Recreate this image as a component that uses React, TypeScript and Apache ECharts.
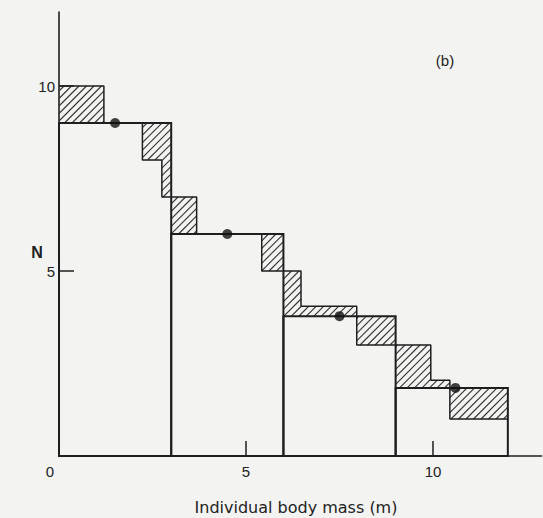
import React, { useEffect, useRef } from "react";
import * as echarts from "echarts";

// Coarse classes (bars) and their N values
const binEdges = [0, 3, 6, 9, 12];
const binHeights = [9, 6, 3.78, 1.84];
// Fine step function (hatched differences)
const fineEdges = [0, 1.2, 2.23, 2.75, 3.68, 5.42, 6.47, 7.96, 9.94, 10.45, 12];
const fineHeights = [10, 9, 8, 7, 6, 5, 4.05, 3, 2.05, 1];
// Mean points
const dotMass = [1.5, 4.5, 7.5, 10.6];
const dotN = [9, 6, 3.78, 1.84];
// Tick labels
const xTickLabels = [0, 5, 10];
const xTickMarks = [5, 10];
const yTickLabels = [5, 10];

const FONT = "'Liberation Sans', Arial, Helvetica, sans-serif";
const WIDE = "'DejaVu Sans', 'Liberation Sans', sans-serif";
const INK = "#1e1e1e";

function stepAt(edges: number[], heights: number[], x: number): number {
  for (let i = 0; i < heights.length; i++) {
    if (x >= edges[i] && x < edges[i + 1]) return heights[i];
  }
  return 0;
}

export default function App() {
  const ref = useRef<HTMLDivElement>(null);

  useEffect(() => {
    if (!ref.current) return;
    const chart = echarts.init(ref.current, null, { renderer: "svg" });

    const edges = Array.from(new Set([...binEdges, ...fineEdges])).sort((a, b) => a - b);
    const hatch: number[][] = [];
    for (let i = 0; i < edges.length - 1; i++) {
      const a = edges[i];
      const b = edges[i + 1];
      const mid = (a + b) / 2;
      const big = stepAt(binEdges, binHeights, mid);
      const fine = stepAt(fineEdges, fineHeights, mid);
      if (Math.abs(big - fine) > 0.01) hatch.push([a, b, Math.min(big, fine), Math.max(big, fine)]);
    }

    const bars = binHeights.map((h, i) => [binEdges[i], binEdges[i + 1], 0, h]);

    const fineLine: number[][] = fineHeights.map((h, i) => [fineEdges[i], h]);
    fineLine.push([fineEdges[fineEdges.length - 1], fineHeights[fineHeights.length - 1]]);

    const option: any = {
      animation: false,
      backgroundColor: "#f3f3f1",
      grid: {
        left: 59,
        top: 12,
        right: 1.5,
        bottom: 62,
        outerBoundsMode: "none",
      },
      xAxis: {
        type: "value",
        min: 0,
        max: 12.9,
        axisLine: { show: true, onZero: true, lineStyle: { color: INK, width: 1.6 } },
        axisTick: {
          show: true,
          inside: true,
          length: 15,
          customValues: xTickMarks,
          lineStyle: { color: INK, width: 1.5 },
        },
        axisLabel: {
          customValues: xTickLabels,
          margin: 8,
          fontSize: 15,
          color: "#222",
          fontFamily: FONT,
          formatter: (v: number) => (v === 0 ? "{z|0}" : String(v)),
          rich: { z: { fontSize: 15, color: "#222", fontFamily: FONT, padding: [0, 18, 0, 0] } },
        },
        splitLine: { show: false },
      },
      yAxis: {
        type: "value",
        min: 0,
        max: 12,
        axisLine: { show: true, lineStyle: { color: INK, width: 1.6 } },
        axisTick: {
          show: true,
          inside: true,
          length: 15,
          customValues: yTickLabels,
          lineStyle: { color: INK, width: 1.5 },
        },
        axisLabel: {
          customValues: yTickLabels,
          margin: 4,
          fontSize: 15,
          color: "#222",
          fontFamily: FONT,
        },
        splitLine: { show: false },
      },
      graphic: [
        {
          type: "text",
          x: 37,
          y: 252,
          style: {
            text: "N",
            font: `bold 16px ${FONT}`,
            fill: "#222",
            textAlign: "center",
            textVerticalAlign: "middle",
          },
        },
        {
          type: "text",
          x: 296,
          y: 507,
          style: {
            text: "Individual body mass (m)",
            font: `16px ${WIDE}`,
            fill: "#222",
            textAlign: "center",
            textVerticalAlign: "middle",
          },
        },
        {
          type: "text",
          x: 445,
          y: 60,
          style: {
            text: "(b)",
            font: `15px ${FONT}`,
            fill: "#222",
            textAlign: "center",
            textVerticalAlign: "middle",
          },
        },
      ],
      series: [
        {
          type: "custom",
          z: 1,
          data: hatch,
          encode: { x: [0, 1], y: [2, 3] },
          renderItem: (params: any, api: any) => {
            const p0 = api.coord([api.value(0), api.value(3)]);
            const p1 = api.coord([api.value(1), api.value(2)]);
            const x0 = p0[0], yTop = p0[1], x1 = p1[0], yBot = p1[1];
            const s = 7.5;
            const children: any[] = [];
            for (let c = Math.ceil((x0 + yTop) / s) * s; c <= x1 + yBot; c += s) {
              const lo = Math.max(x0, c - yBot);
              const hi = Math.min(x1, c - yTop);
              if (hi - lo > 0.6) {
                children.push({
                  type: "line",
                  shape: { x1: lo, y1: c - lo, x2: hi, y2: c - hi },
                  style: { stroke: "#333", lineWidth: 1.1 },
                });
              }
            }
            return { type: "group", children };
          },
        },
        {
          type: "line",
          z: 2,
          step: "end",
          data: fineLine,
          showSymbol: false,
          lineStyle: { color: INK, width: 1.5 },
        },
        {
          type: "custom",
          z: 3,
          data: bars,
          encode: { x: [0, 1], y: [2, 3] },
          renderItem: (params: any, api: any) => {
            const p0 = api.coord([api.value(0), api.value(3)]);
            const p1 = api.coord([api.value(1), api.value(2)]);
            return {
              type: "rect",
              shape: { x: p0[0], y: p0[1], width: p1[0] - p0[0], height: p1[1] - p0[1] },
              style: { fill: "none", stroke: INK, lineWidth: 2 },
            };
          },
        },
        {
          type: "scatter",
          z: 4,
          data: dotMass.map((m, i) => [m, dotN[i]]),
          symbol: "circle",
          symbolSize: 10,
          itemStyle: { color: "#111" },
        },
      ],
    };

    chart.setOption(option);
    return () => chart.dispose();
  }, []);

  return (
    <div
      ref={ref}
      style={{ position: "fixed", left: 0, top: 0, width: 543, height: 518 }}
    />
  );
}
